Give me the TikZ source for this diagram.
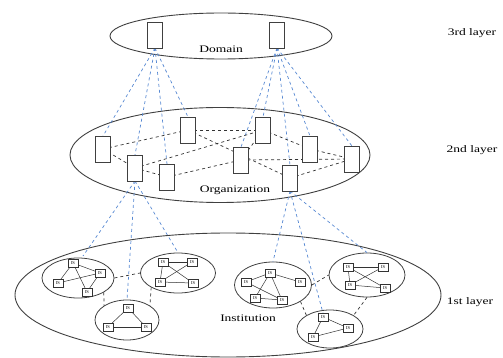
\documentclass[tikz,border=0pt]{standalone}
\usepackage{fontspec}
\setmainfont{Liberation Serif}
\usetikzlibrary{shapes.geometric}

\definecolor{linkblue}{RGB}{85,135,210}
\newcommand{\wide}[1]{\scalebox{1.35}[1]{#1}}

\begin{document}
\begin{tikzpicture}[
    x=1pt, y=1pt,
    every node/.style={inner sep=0pt},
    ring/.style={draw=black!75, line width=0.9pt, shape=ellipse},
    srvbox/.style={draw=black!75, line width=0.7pt, fill=white, shape=rectangle,
                   minimum width=15pt, minimum height=26pt},
    isbox/.style={draw=black!80, line width=0.5pt, fill=white, shape=rectangle,
                  minimum width=10pt, minimum height=8pt, font=\fontsize{4.5}{5}\selectfont},
    uplink/.style={draw=linkblue, dashed, line width=0.7pt},
    peer/.style={draw=black!80, dashed, line width=0.7pt},
    wire/.style={draw=black!80, line width=0.5pt},
    lbl/.style={font=\fontsize{10}{12}\selectfont}
    ]
    \useasboundingbox (0,0) rectangle (503,-358);

    % big rings
    \node[ring, minimum width=222pt, minimum height=46pt] (dom) at (221,-36) {};
    \node[ring, minimum width=300pt, minimum height=95pt] (org) at (220,-155) {};
    \node[ring, minimum width=426pt, minimum height=124pt] (inst) at (228,-295) {};

    % institution rings
    \path foreach \n/\x/\y/\w/\h in {c1/78/278/72/40, c2/178/273/75/40, c3/127/320/64/40,
                                     c4/273/285/77/46, c5/367/275/76/44, c6/330/329/66/38}
      {(\x,-\y) node[ring, line width=0.8pt, minimum width=\w pt, minimum height=\h pt] (\n) {}};

    % server positions
    \path foreach \n/\x/\y in {o1/103/149, o2/135/168, o3/167/177, o4/188/130, o5/241/160,
                               o6/263/130, o7/310/149, o8/290/178, o9/352/159}
      {(\x,-\y) coordinate (p\n)};
    \path (155,-35) coordinate (pd1) (277,-35) coordinate (pd2);

    % blue links between layers
    \foreach \t in {o1,o2,o3,o4}
      \draw[uplink] ([yshift=-13pt]pd1) -- ([yshift=13pt]p\t);
    \foreach \t in {o5,o6,o8,o7,o9}
      \draw[uplink] ([yshift=-13pt]pd2) -- ([yshift=13pt]p\t);
    \draw[uplink] ([yshift=-13pt]po2) -- (83,-256);
    \draw[uplink] ([yshift=-13pt]po2) -- (c3.north);
    \draw[uplink] ([yshift=-13pt]po2) -- (c2.north);
    \draw[uplink] ([yshift=-13pt]po8) -- (c4.north);
    \draw[uplink] ([yshift=-13pt]po8) -- (323,-313);
    \draw[uplink] ([yshift=-13pt]po8) -- (c5.north);

    % black peer links
    \foreach \a/\b in {o1/o4, o1/o2, o2/o3, o2/o6, o3/o5, o4/o6, o4/o8, o5/o6,
                       o5/o9, o6/o7, o7/o9, o8/o9}
      \draw[peer] (p\a) -- (p\b);

    % org and domain servers
    \path foreach \n/\x/\y in {o1/103/149, o2/135/168, o3/167/177, o4/188/130, o5/241/160,
                               o6/263/130, o7/310/149, o8/290/178, o9/352/159}
      {(\x,-\y) node[srvbox] (\n) {}};
    \node[srvbox] (d1) at (pd1) {};
    \node[srvbox] (d2) at (pd2) {};

    % dashed links between institutions
    \draw[peer] (c1.east) -- (c2.west);
    \draw[peer] (c1.south east) -- (c3.north west);
    \draw[peer] (c2.south west) -- (c3.north east);
    \draw[peer] (c4.east) -- (c5.west);
    \draw[peer] (c4.south east) -- (c6.north west);
    \draw[peer] (c5.south) -- (c6.north east);

    % IS boxes
    \path foreach \n/\x/\y in {c1a/73/263, c1b/100/273, c1c/58/283, c1d/87/292,
                               c2a/163/262, c2b/192/262, c2c/160/282, c2d/193/283,
                               c3a/128/308, c3b/108/327, c3c/146/327,
                               c4a/270/273, c4b/246/282, c4c/300/282, c4d/255/298, c4e/282/300,
                               c5a/348/267, c5b/383/267, c5c/350/285, c5d/385/288,
                               c6a/323/317, c6b/348/328, c6c/313/337}
      {(\x,-\y) coordinate (q\n)};
    \foreach \a/\b in {c1a/c1b, c1a/c1c, c1a/c1d, c1c/c1b, c1d/c1b,
                       c2a/c2b, c2a/c2c, c2a/c2d, c2b/c2c, c2c/c2d,
                       c3a/c3b, c3a/c3c, c3b/c3c,
                       c4b/c4a, c4a/c4c, c4a/c4d, c4a/c4e, c4d/c4e, c4b/c4e,
                       c5a/c5b, c5a/c5c, c5a/c5d, c5c/c5b, c5c/c5d,
                       c6a/c6b, c6a/c6c, c6c/c6b}
      \draw[wire] (q\a) -- (q\b);
    \path foreach \n/\x/\y in {c1a/73/263, c1b/100/273, c1c/58/283, c1d/87/292,
                               c2a/163/262, c2b/192/262, c2c/160/282, c2d/193/283,
                               c3a/128/308, c3b/108/327, c3c/146/327,
                               c4a/270/273, c4b/246/282, c4c/300/282, c4d/255/298, c4e/282/300,
                               c5a/348/267, c5b/383/267, c5c/350/285, c5d/385/288,
                               c6a/323/317, c6b/348/328, c6c/313/337}
      {(\x,-\y) node[isbox] (\n) {IS}};

    % texts
    \node[lbl] (tdom) at (221,-49) {\wide{Domain}};
    \node[lbl] (torg) at (235,-190) {\wide{Organization}};
    \node[lbl] (tinst) at (248,-318) {\wide{Institution}};
    \node[lbl] (l3) at (472,-33) {\wide{3rd layer}};
    \node[lbl] (l2) at (472,-150) {\wide{2nd layer}};
    \node[lbl] (l1) at (470,-302) {\wide{1st layer}};
\end{tikzpicture}
\end{document}
